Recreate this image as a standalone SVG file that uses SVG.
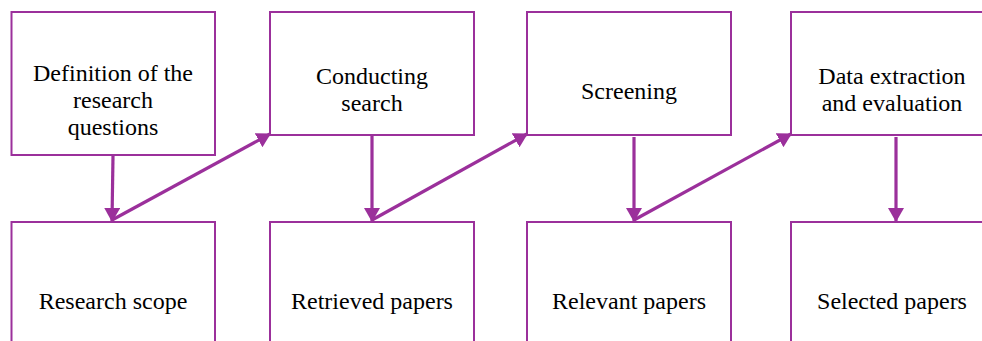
<svg xmlns="http://www.w3.org/2000/svg" width="982" height="341" viewBox="0 0 982 341">
<style>
.box{fill:#fff;stroke:#9b309b;stroke-width:2}
.t{font-family:"Liberation Serif","Times New Roman",serif;font-size:24px;fill:#000;text-anchor:middle}
.c{stroke:#9b309b;stroke-width:3.2;fill:none}
</style>
<defs>
<marker id="ah" markerUnits="userSpaceOnUse" markerWidth="16" markerHeight="18" refX="13" refY="8" orient="auto" viewBox="0 0 16 18">
<path d="M0,0 L14,8 L0,16 z" fill="#9b309b"/>
</marker>
</defs>
<rect width="982" height="341" fill="#fff"/>
<g id="n1"><rect class="box" x="11.5" y="12" width="203.5" height="143"/>
<text class="t" x="113" y="81">Definition of the</text><text class="t" x="113" y="108">research</text><text class="t" x="113" y="135">questions</text></g>
<g id="n2"><rect class="box" x="270" y="12" width="204" height="123"/>
<text class="t" x="372" y="84">Conducting</text><text class="t" x="372" y="111">search</text></g>
<g id="n3"><rect class="box" x="527" y="12" width="204" height="123"/>
<text class="t" x="629" y="99">Screening</text></g>
<g id="n4"><rect class="box" x="791" y="12" width="204" height="123"/>
<text class="t" x="892" y="84">Data extraction</text><text class="t" x="892" y="111">and evaluation</text></g>
<g id="n5"><rect class="box" x="11.5" y="222" width="203.5" height="130"/>
<text class="t" x="113" y="309">Research scope</text></g>
<g id="n6"><rect class="box" x="270" y="222" width="204" height="130"/>
<text class="t" x="372" y="309">Retrieved papers</text></g>
<g id="n7"><rect class="box" x="527" y="222" width="204" height="130"/>
<text class="t" x="629" y="309">Relevant papers</text></g>
<g id="n8"><rect class="box" x="791" y="222" width="204" height="130"/>
<text class="t" x="892" y="309">Selected papers</text></g>
<g id="connectors">
<line class="c" x1="113" y1="156" x2="112" y2="221" marker-end="url(#ah)"/>
<line class="c" x1="112" y1="220" x2="270" y2="134" marker-end="url(#ah)"/>
<line class="c" x1="372" y1="135" x2="372" y2="221" marker-end="url(#ah)"/>
<line class="c" x1="372" y1="220" x2="527" y2="134" marker-end="url(#ah)"/>
<line class="c" x1="634" y1="137" x2="634" y2="221" marker-end="url(#ah)"/>
<line class="c" x1="634" y1="220" x2="791" y2="134" marker-end="url(#ah)"/>
<line class="c" x1="896" y1="137" x2="896" y2="221" marker-end="url(#ah)"/>
</g>
</svg>
